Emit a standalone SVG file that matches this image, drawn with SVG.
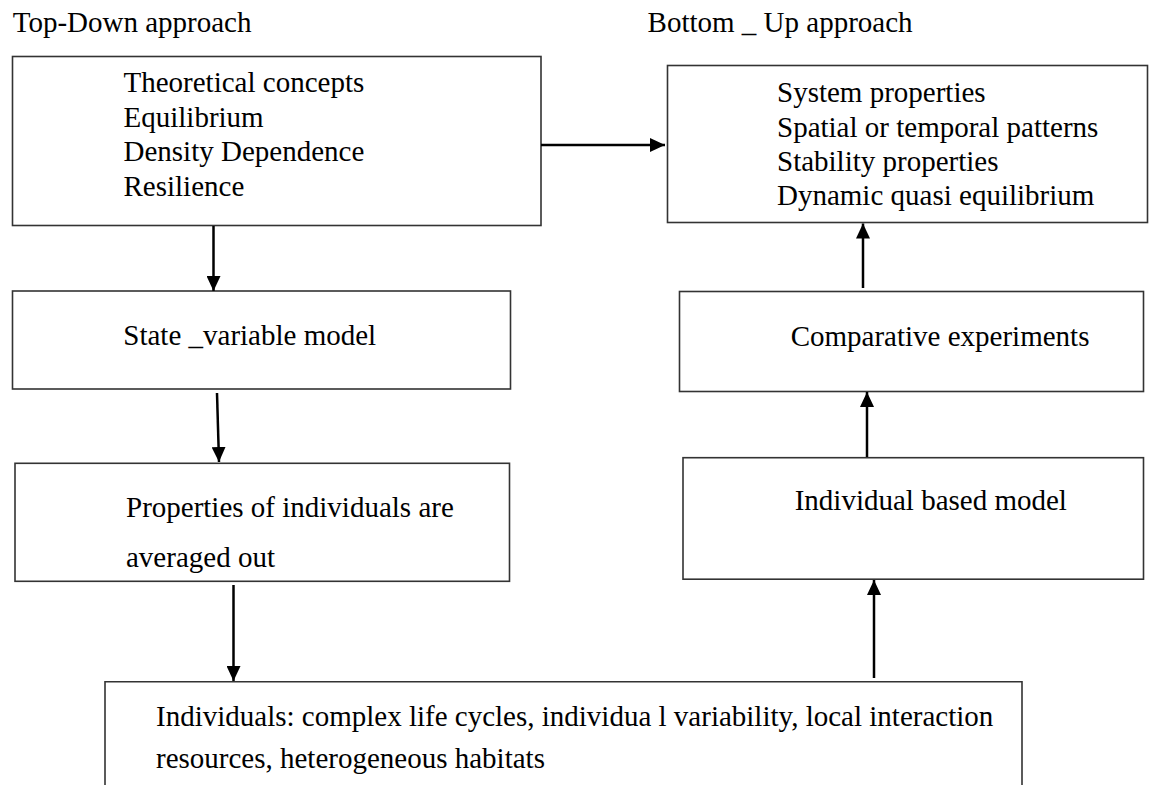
<svg xmlns="http://www.w3.org/2000/svg" width="1152" height="785" viewBox="0 0 1152 785">
<style>
.box{fill:#fff;stroke:#333;stroke-width:1.6}
.t{font-family:"Liberation Serif","Times New Roman",serif;font-size:29px;fill:#000}
.arr{stroke:#000;stroke-width:2.5;fill:none;marker-end:url(#ah)}
</style>
<defs>
<marker id="ah" viewBox="0 0 15 14" refX="15" refY="7" markerWidth="15" markerHeight="14" markerUnits="userSpaceOnUse" orient="auto">
<path d="M0,0 L15,7 L0,14 z" fill="#000"/>
</marker>
</defs>
<rect width="1152" height="785" fill="#fff"/>
<text class="t" x="12.7" y="32">Top-Down approach</text>
<text class="t" x="647.6" y="32">Bottom _ Up approach</text>
<g id="theory">
<rect class="box" x="12.5" y="56.5" width="528.5" height="169"/>
<text class="t" x="123.5" y="92">Theoretical concepts</text>
<text class="t" x="123.5" y="127">Equilibrium</text>
<text class="t" x="123.5" y="161">Density Dependence</text>
<text class="t" x="123.5" y="195.5">Resilience</text>
</g>
<g id="system">
<rect class="box" x="667.5" y="65.5" width="480" height="157"/>
<text class="t" x="777" y="102">System properties</text>
<text class="t" x="777" y="137">Spatial or temporal patterns</text>
<text class="t" x="777" y="171">Stability properties</text>
<text class="t" x="777" y="205">Dynamic quasi equilibrium</text>
</g>
<g id="state">
<rect class="box" x="12.5" y="291" width="498" height="98"/>
<text class="t" x="123.3" y="345">State _variable model</text>
</g>
<g id="comparative">
<rect class="box" x="679.5" y="291.5" width="464" height="100"/>
<text class="t" x="790.7" y="346">Comparative experiments</text>
</g>
<g id="properties">
<rect class="box" x="15" y="463.3" width="494.5" height="118"/>
<text class="t" x="126" y="517">Properties of individuals are</text>
<text class="t" x="126" y="567">averaged out</text>
</g>
<g id="ibm">
<rect class="box" x="683" y="457.7" width="460.5" height="121.5"/>
<text class="t" x="794.7" y="510">Individual based model</text>
</g>
<g id="individuals">
<path class="box" d="M105,790 V681.7 H1022 V790"/>
<text class="t" x="156" y="726">Individuals: complex life cycles, individua l variability, local interaction</text>
<text class="t" x="156" y="768">resources, heterogeneous habitats</text>
</g>
<g id="connectors">
<line class="arr" x1="541" y1="145" x2="665" y2="145"/>
<line class="arr" x1="213.5" y1="226" x2="213.5" y2="291"/>
<line class="arr" x1="217" y1="393" x2="219" y2="462"/>
<line class="arr" x1="233.5" y1="585" x2="233.5" y2="681"/>
<line class="arr" x1="874" y1="678" x2="874" y2="580"/>
<line class="arr" x1="867" y1="457" x2="867" y2="392"/>
<line class="arr" x1="863" y1="288" x2="863" y2="223.5"/>
</g>
</svg>
